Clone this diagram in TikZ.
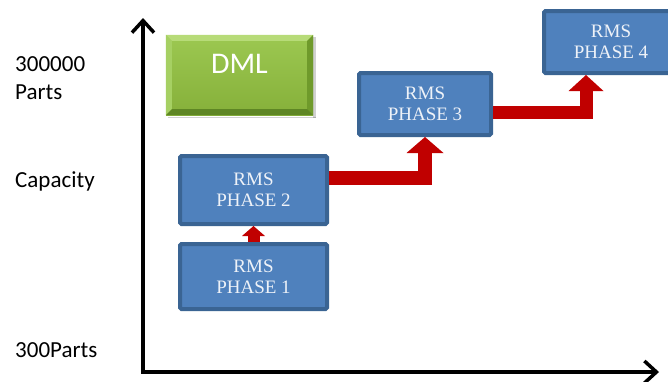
\documentclass[tikz,border=0pt]{standalone}
\usepackage{fontspec}
\setmainfont{Liberation Serif}
\newfontfamily\labelfont{Carlito}
\usetikzlibrary{arrows.meta,calc}

\definecolor{rmsfill}{HTML}{4F81BD}
\definecolor{rmsedge}{HTML}{3A6493}
\definecolor{rmstext}{HTML}{EEF2F8}
\definecolor{flowred}{HTML}{C00000}
\definecolor{dmltop}{HTML}{9CC851}
\definecolor{dmlbot}{HTML}{86B03A}
\definecolor{dmllight}{HTML}{B7DB78}
\definecolor{dmlmid}{HTML}{A6D063}
\definecolor{dmldark}{HTML}{6F9A2B}
\definecolor{dmldeep}{HTML}{5E8624}

\tikzset{
  rmsbox/.style={draw=rmsedge, fill=rmsfill, line width=4pt,
    rounded corners=1.5pt, text=rmstext, align=center, inner sep=0pt,
    font=\fontsize{19}{21}\selectfont},
  flow/.style={draw=flowred, line width=#1, line join=miter},
  axis/.style={line width=3.5pt, line join=miter,
    {Straight Barb[length=12pt,width=22pt]}-{Straight Barb[length=12pt,width=22pt]}},
  sidelabel/.style={anchor=base west, inner sep=0pt,
    font=\labelfont\fontsize{23}{27}\selectfont},
}

\begin{document}
\begin{tikzpicture}[x=1pt,y=-1pt]
\useasboundingbox (0,0) rectangle (668,381);

% axes
\coordinate (ytop) at (143,18);
\coordinate (origin) at (143,372);
\coordinate (xend) at (659,372);
\draw[axis] (ytop) -- (origin) -- (xend);

% scale labels
\node[sidelabel] (l1) at (15,71) {300000};
\node[sidelabel] (l2) at (15,99) {Parts};
\node[sidelabel] (l3) at (15,187) {Capacity};
\node[sidelabel] (l4) at (15,357) {300Parts};

% DML block with bevelled edges
\node[minimum width=147pt, minimum height=80pt, inner sep=0pt,
      top color=dmltop, bottom color=dmlbot] (dml) at (239.5,75) {};
\fill[black, opacity=0.18] ([shift={(2pt,-2pt)}]dml.south west) rectangle ([shift={(3pt,-3pt)}]dml.south east);
\fill[black, opacity=0.18] ([shift={(0pt,-2pt)}]dml.north east) rectangle ([shift={(3pt,-3pt)}]dml.south east);
\fill[dmllight] (dml.north west) -- (dml.north east)
  -- ([shift={(-6pt,-6pt)}]dml.north east) -- ([shift={(6pt,-6pt)}]dml.north west) -- cycle;
\fill[dmlmid] (dml.north west) -- ([shift={(6pt,-6pt)}]dml.north west)
  -- ([shift={(6pt,6pt)}]dml.south west) -- (dml.south west) -- cycle;
\fill[dmldark] (dml.north east) -- (dml.south east)
  -- ([shift={(-6pt,6pt)}]dml.south east) -- ([shift={(-6pt,-6pt)}]dml.north east) -- cycle;
\fill[dmldeep] (dml.south west) -- ([shift={(6pt,6pt)}]dml.south west)
  -- ([shift={(-6pt,6pt)}]dml.south east) -- (dml.south east) -- cycle;
\node[anchor=base, inner sep=0pt, text=white,
      font=\labelfont\fontsize{30}{32}\selectfont] (dmltext) at ([yshift=2pt]dml.center) {DML};

% RMS phases
\node[rmsbox, minimum width=147pt, minimum height=65pt] (p1) at (253.5,276.5) {RMS\\PHASE 1};
\node[rmsbox, minimum width=147pt, minimum height=68pt] (p2) at (253.5,190) {RMS\\PHASE 2};
\node[rmsbox, minimum width=132pt, minimum height=62pt] (p3) at (425,104) {RMS\\PHASE 3};
\node[rmsbox, minimum width=134pt, minimum height=62pt] (p4) at (611,42) {RMS\\PHASE 4};

% transitions between phases
\draw[flow=12pt, -{Triangle[width=23pt,length=10pt,line width=0pt]}] (p1.north) -- (p2.south);
\draw[flow=14pt, -{Triangle[width=37pt,length=16pt,line width=0pt]}]
  ([yshift=12pt]p2.east) -| (p3.south);
\draw[flow=13pt, -{Triangle[width=35pt,length=16pt,line width=0pt]}]
  ([yshift=-8.5pt]p3.east) -| ([xshift=-25pt]p4.south);
\end{tikzpicture}
\end{document}
